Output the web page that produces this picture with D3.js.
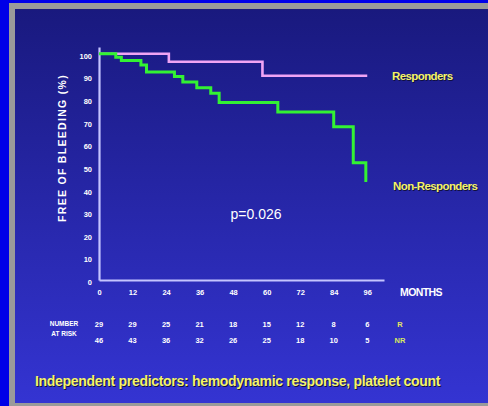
<!DOCTYPE html>
<html>
<head>
<meta charset="utf-8">
<script src="https://cdn.jsdelivr.net/npm/d3@7"></script>
<style>
  body { margin: 0; background: #0000e8; }
  svg { display: block; }
  text { font-family: "Liberation Sans Narrow", "Liberation Sans", Arial, sans-serif; }
</style>
</head>
<body>
<div id="chart"></div>
<script>
// number at risk, month ticks
const months = [0, 12, 24, 36, 48, 60, 72, 84, 96]
const riskR = [29, 29, 25, 21, 18, 15, 12, 8, 6]
const riskNR = [46, 43, 36, 32, 26, 25, 18, 10, 5]
const yTicks = [0, 10, 20, 30, 40, 50, 60, 70, 80, 90, 100]

// Kaplan-Meier steps (month, % free of bleeding)
const respTimes = [0, 25, 58.5, 96]
const respSurv = [100, 96.5, 90.3, 90.3]
const nonTimes = [0, 6, 8, 15, 17, 27, 30, 35, 40, 43, 64, 84, 91, 95.5, 96]
const nonSurv = [100, 98.5, 97, 95, 92, 90, 87.5, 85, 82.5, 78.5, 74.3, 67.7, 51.8, 44, 44]

const width = 488
const height = 406

const svg = d3.select('#chart')
  .append('svg')
  .attr('width', width)
  .attr('height', height)

const defs = svg.append('defs')
const grad = defs.append('linearGradient')
  .attr('id', 'bg')
  .attr('x1', 0).attr('y1', 0).attr('x2', 0).attr('y2', 1)
grad.append('stop').attr('offset', '0%').attr('stop-color', '#19197e')
grad.append('stop').attr('offset', '55%').attr('stop-color', '#2828ad')
grad.append('stop').attr('offset', '100%').attr('stop-color', '#3434d2')

// frame
svg.append('rect')
  .attr('x', 9).attr('y', 3)
  .attr('width', width).attr('height', height - 3)
  .attr('fill', '#9a9a9a')
svg.append('rect')
  .attr('x', 15).attr('y', 9)
  .attr('width', width).attr('height', 394)
  .attr('fill', 'url(#bg)')

const x = d3.scaleLinear()
  .domain([0, 102])
  .range([99, 384])

const y = d3.scaleLinear()
  .domain([0, 103])
  .range([280, 47])

const axisColor = '#c4c4ff'

const yAxis = g => g
  .attr('transform', `translate(${x(0)},0)`)
  .call(d3.axisLeft(y).tickValues(yTicks).tickSize(0).tickPadding(7).tickSizeOuter(0))
  .call(g => g.select('.domain').attr('stroke', axisColor).attr('stroke-width', 2.2))
  .call(g => g.selectAll('text')
    .attr('fill', '#ffffff')
    .attr('font-size', 7.5)
    .attr('font-weight', 'bold')
    .attr('dy', '0.6em')
    .style('font-family', '"Liberation Sans Narrow", "Liberation Sans", sans-serif'))

const xAxis = g => g
  .attr('transform', `translate(0,${y(0)})`)
  .call(d3.axisBottom(x).tickValues(months).tickSize(0).tickPadding(10).tickSizeOuter(0))
  .call(g => g.select('.domain').attr('stroke', axisColor).attr('stroke-width', 2.2))
  .call(g => g.selectAll('text')
    .attr('fill', '#ffffff')
    .attr('font-size', 7.5)
    .attr('font-weight', 'bold')
    .style('font-family', '"Liberation Sans Narrow", "Liberation Sans", sans-serif'))

svg.append('g').call(xAxis)
svg.append('g').call(yAxis)

// axis titles
svg.append('text')
  .attr('transform', `translate(66,${148}) rotate(-90)`)
  .attr('text-anchor', 'middle')
  .attr('fill', '#ffffff')
  .attr('font-size', 10.5)
  .attr('font-weight', 'bold')
  .attr('letter-spacing', 1.3)
  .text('FREE OF BLEEDING (%)')

svg.append('text')
  .attr('x', 400).attr('y', 296)
  .attr('fill', '#ffffff')
  .attr('font-size', 10.5)
  .attr('font-weight', 'bold')
  .attr('letter-spacing', -0.6)
  .text('MONTHS')

// curves
const line = d3.line()
  .x(d => x(d[0]))
  .y(d => y(d[1]))
  .curve(d3.curveStepAfter)

svg.append('path')
  .datum(d3.zip(respTimes, respSurv))
  .attr('fill', 'none')
  .attr('stroke', '#f0a4f4')
  .attr('stroke-width', 2.6)
  .attr('d', line)

svg.append('path')
  .datum(d3.zip(nonTimes, nonSurv))
  .attr('fill', 'none')
  .attr('stroke', '#33f233')
  .attr('stroke-width', 3)
  .attr('d', line)

// legends
const yellowText = (tx, ty, size, str, ls) => {
  svg.append('text')
    .attr('x', tx + 1).attr('y', ty + 1)
    .attr('fill', '#101040')
    .attr('font-size', size)
    .attr('font-weight', 'bold')
    .attr('letter-spacing', ls)
    .text(str)
  svg.append('text')
    .attr('x', tx).attr('y', ty)
    .attr('fill', '#f4f46a')
    .attr('font-size', size)
    .attr('font-weight', 'bold')
    .attr('letter-spacing', ls)
    .text(str)
}

yellowText(392, 80, 11.5, 'Responders', -0.6)
yellowText(393, 190, 11.5, 'Non-Responders', -0.6)

svg.append('text')
  .attr('x', 256).attr('y', 219)
  .attr('text-anchor', 'middle')
  .attr('fill', '#ffffff')
  .attr('font-size', 14)
  .style('font-family', '"Liberation Sans", Arial, sans-serif')
  .text('p=0.026')

// number at risk
const riskRow = (vals, ty) => {
  svg.append('g')
    .selectAll('text')
    .data(vals)
    .join('text')
    .attr('x', (d, i) => x(months[i]))
    .attr('y', ty)
    .attr('text-anchor', 'middle')
    .attr('fill', '#ffffff')
    .attr('font-size', 7.5)
    .attr('font-weight', 'bold')
    .text(d => d)
}
riskRow(riskR, 327)
riskRow(riskNR, 343)

svg.append('text')
  .attr('x', x(102) + 16).attr('y', 327)
  .attr('text-anchor', 'middle')
  .attr('fill', '#e8e860')
  .attr('font-size', 7.5)
  .attr('font-weight', 'bold')
  .text('R')
svg.append('text')
  .attr('x', x(102) + 16).attr('y', 343)
  .attr('text-anchor', 'middle')
  .attr('fill', '#d8e860')
  .attr('font-size', 7.5)
  .attr('font-weight', 'bold')
  .text('NR')

svg.append('text')
  .attr('x', 64).attr('y', 326)
  .attr('text-anchor', 'middle')
  .attr('fill', '#ffffff')
  .attr('font-size', 6.5)
  .attr('font-weight', 'bold')
  .text('NUMBER')
svg.append('text')
  .attr('x', 64).attr('y', 336)
  .attr('text-anchor', 'middle')
  .attr('fill', '#ffffff')
  .attr('font-size', 6.5)
  .attr('font-weight', 'bold')
  .text('AT RISK')

yellowText(35, 386, 14, 'Independent predictors: hemodynamic response, platelet count', -0.3)
</script>
</body>
</html>
